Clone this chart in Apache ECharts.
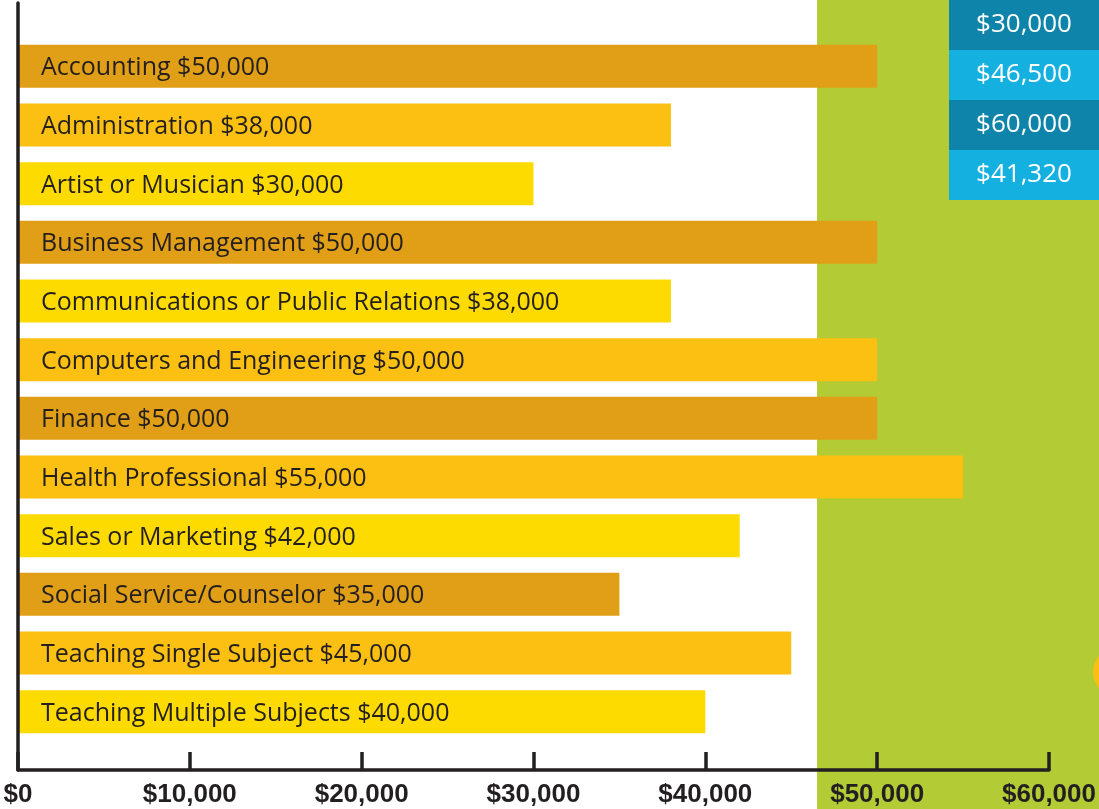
<!DOCTYPE html>
<html>
<head>
<meta charset="utf-8">
<title>Starting salaries by career</title>
<script src="https://cdn.jsdelivr.net/npm/echarts@6/dist/echarts.min.js"></script>
<style>
  html, body { margin: 0; padding: 0; background: #fff; }
  #chart { width: 1099px; height: 809px; }
</style>
</head>
<body>
<div id="chart"></div>
<script>
// careers, top to bottom
const careers = [
  'Accounting',
  'Administration',
  'Artist or Musician',
  'Business Management',
  'Communications or Public Relations',
  'Computers and Engineering',
  'Finance',
  'Health Professional',
  'Sales or Marketing',
  'Social Service/Counselor',
  'Teaching Single Subject',
  'Teaching Multiple Subjects'
]
const salaries = [50000, 38000, 30000, 50000, 38000, 50000, 50000, 55000, 42000, 35000, 45000, 40000]

// x axis ticks
const xTicks = [0, 10000, 20000, 30000, 40000, 50000, 60000]

// summary boxes at the top right
const statKeys = ['low', 'median', 'high', 'average']
const statValues = [30000, 46500, 60000, 41320]
const medianSalary = 46500

// colours
const barPalette = ['#e09f16', '#fcc012', '#fddb00', '#e09f16', '#fddb00', '#fcc012',
  '#e09f16', '#fcc012', '#fddb00', '#e09f16', '#fcc012', '#fddb00']
const statPalette = ['#0f84aa', '#14b0e0', '#0f84aa', '#14b0e0']
const ink = '#231f20'

const money = v => '$' + v.toLocaleString('en-US')

const xMin = xTicks[0]
const xMax = xTicks[xTicks.length - 1]
// background grid reaches the right edge, past the last tick
const bgMax = xMax * (1099 - 18) / (1049 - 18)

const chart = echarts.init(document.getElementById('chart'))

const option = {
  animation: false,
  grid: [
    { left: 18, right: 50, top: 37, bottom: 68 },      // bars
    { left: 18, right: 50, top: 3, bottom: 39 },       // axes frame
    { left: 18, right: 0, top: 0, bottom: 0 },         // green band
    { left: 949, right: 0, top: -7, height: 207 }      // summary boxes
  ],
  xAxis: [
    { gridIndex: 0, type: 'value', min: xMin, max: xMax, show: false },
    {
      gridIndex: 1,
      type: 'value',
      min: xMin,
      max: xMax,
      interval: xTicks[1] - xTicks[0],
      z: 10,
      axisLine: { show: true, lineStyle: { color: ink, width: 3.5 } },
      axisTick: { show: true, inside: true, length: 18, lineStyle: { color: ink, width: 3.5 } },
      axisLabel: {
        margin: 12,
        color: ink,
        fontFamily: 'Liberation Sans',
        fontWeight: 'bold',
        fontSize: 26,
        formatter: v => money(v)
      },
      splitLine: { show: false }
    },
    { gridIndex: 2, type: 'value', min: xMin, max: bgMax, show: false },
    { gridIndex: 3, type: 'value', min: 0, max: 1, show: false }
  ],
  yAxis: [
    { gridIndex: 0, type: 'category', data: careers, inverse: true, show: false },
    {
      gridIndex: 1,
      type: 'value',
      min: 0,
      max: 1,
      offset: 2,
      z: 10,
      axisLine: { show: true, lineStyle: { color: ink, width: 3.5 } },
      axisTick: { show: false },
      axisLabel: { show: false },
      splitLine: { show: false }
    },
    { gridIndex: 2, type: 'value', min: 0, max: 1, show: false },
    { gridIndex: 3, type: 'category', data: statKeys, inverse: true, show: false }
  ],
  series: [
    {
      name: 'band',
      type: 'line',
      xAxisIndex: 2,
      yAxisIndex: 2,
      z: 0,
      silent: true,
      showSymbol: false,
      lineStyle: { opacity: 0 },
      data: [[medianSalary, 0]],
      markArea: {
        silent: true,
        itemStyle: { color: '#b3cb35' },
        data: [[{ xAxis: medianSalary }, { xAxis: bgMax }]]
      }
    },
    {
      name: 'Salary',
      type: 'bar',
      xAxisIndex: 0,
      yAxisIndex: 0,
      z: 3,
      barWidth: 43,
      data: salaries.map((v, i) => ({ value: v, itemStyle: { color: barPalette[i] } })),
      label: {
        show: true,
        position: [23, '50%'],
        offset: [0, 2],
        verticalAlign: 'middle',
        color: ink,
        fontFamily: 'Open Sans',
        fontSize: 25,
        formatter: p => p.name + ' ' + money(p.value)
      }
    },
    {
      name: 'Summary',
      type: 'bar',
      xAxisIndex: 3,
      yAxisIndex: 3,
      z: 3,
      barWidth: '100%',
      data: statValues.map((v, i) => ({ value: 1, stat: v, itemStyle: { color: statPalette[i] } })),
      label: {
        show: true,
        position: 'inside',
        color: '#ffffff',
        fontFamily: 'Open Sans',
        fontSize: 26,
        formatter: p => money(p.data.stat)
      }
    }
  ],
  graphic: [
    {
      type: 'circle',
      shape: { cx: 1117, cy: 672, r: 24 },
      style: { fill: '#fcc012' },
      z: 5
    }
  ]
}

chart.setOption(option)
</script>
</body>
</html>
